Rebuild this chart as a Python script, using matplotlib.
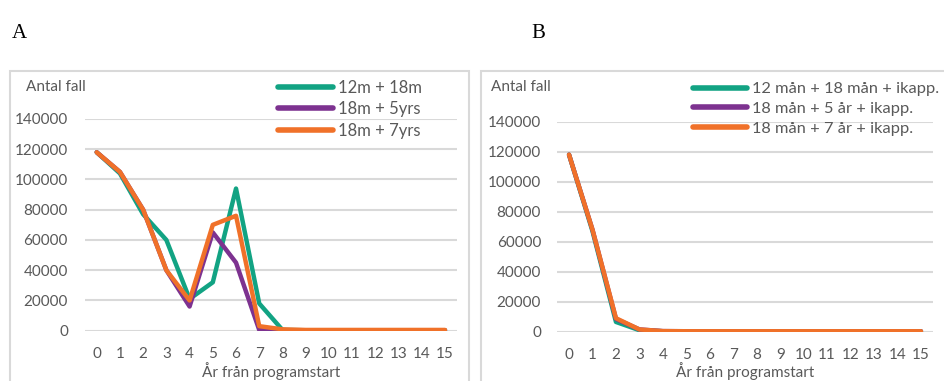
import matplotlib
matplotlib.use("Agg")
import matplotlib.pyplot as plt
from matplotlib.patches import Rectangle

years = list(range(16))
xtick_labels = [str(y) for y in years]
yticks = [0, 20000, 40000, 60000, 80000, 100000, 120000, 140000]

a_labels = ["12m + 18m", "18m + 5yrs", "18m + 7yrs"]
a_green = [118000, 104000, 77000, 60000, 21000, 32000, 94000, 18000, 500, 300, 300, 300, 300, 300, 300, 300]
a_purple = [118000, 105000, 80000, 40000, 16000, 65000, 45000, 500, 300, 300, 300, 300, 300, 300, 300, 300]
a_orange = [118000, 105000, 80000, 40000, 20000, 70000, 76000, 3000, 900, 500, 500, 500, 500, 500, 500, 500]

b_labels = ["12 mån + 18 mån + ikapp.", "18 mån + 5 år + ikapp.", "18 mån + 7 år + ikapp."]
b_green = [118000, 67000, 6500, 1000, 300, 200, 200, 200, 200, 200, 200, 200, 200, 200, 200, 200]
b_purple = [118000, 68000, 8500, 1500, 400, 300, 300, 300, 300, 300, 300, 300, 300, 300, 300, 300]
b_orange = [118000, 68000, 9000, 1500, 400, 300, 300, 300, 300, 300, 300, 300, 300, 300, 300, 300]

colors = ["#12a383", "#7d3290", "#f07129"]
W, H = 944, 381
TXT = "#595959"
GRID = "#d9d9d9"
FONT = "Lato"

fig = plt.figure(figsize=(W / 100, H / 100), dpi=100)

def fx(px):
    return px / W

def fy(py):
    return 1 - py / H

# panel boxes
for x0, x1 in [(10, 469), (480.5, 950)]:
    fig.patches.append(Rectangle((fx(x0), fy(400)), fx(x1) - fx(x0), fy(71) - fy(400),
                                 transform=fig.transFigure, fill=False,
                                 edgecolor=GRID, lw=1.5, zorder=0))

fig.text(fx(12), fy(33), "A", family="Liberation Serif", fontsize=15, va="center", ha="left", color="black")
fig.text(fx(531), fy(33), "B", family="Liberation Serif", fontsize=15, va="center", ha="left", color="black")

def make_panel(xl, xr, ybot, ytop, series, labels, title_x, title_y, leg_x, leg_y, ylab_x, legsize):
    ax = fig.add_axes([fx(xl), fy(ybot), fx(xr) - fx(xl), fy(ytop) - fy(ybot)])
    for vals, c, lab in zip(series, colors, labels):
        ax.plot(years, vals, color=c, lw=3.2, label=lab, solid_capstyle="round",
                solid_joinstyle="round", zorder=3)
    ax.set_xlim(-0.5, 15.5)
    ax.set_ylim(0, 140000)
    ax.set_yticks(yticks)
    ax.set_yticklabels([str(v) for v in yticks])
    ax.set_xticks(years)
    ax.set_xticklabels(xtick_labels)
    for s in ax.spines.values():
        s.set_visible(False)
    ax.grid(axis="y", color=GRID, lw=1.5, zorder=0)
    ax.set_axisbelow(True)
    ax.tick_params(axis="both", length=0, labelsize=11, labelcolor=TXT)
    ax.tick_params(axis="y", pad=(xl - ylab_x) * 0.72)
    ax.tick_params(axis="x", pad=12)
    for t in ax.get_xticklabels() + ax.get_yticklabels():
        t.set_fontfamily(FONT)
    ax.set_xlabel("År från programstart", fontsize=11, color=TXT, family=FONT)
    ax.xaxis.label.set_va("baseline")
    ax.xaxis.set_label_coords(0.5, (ybot - 377.5) / (ybot - ytop))
    fig.text(fx(title_x), fy(title_y), "Antal fall", fontsize=11, color=TXT, family=FONT,
             ha="left", va="center")
    leg = ax.legend(loc="upper left", bbox_to_anchor=(fx(leg_x), fy(leg_y)),
                    bbox_transform=fig.transFigure, frameon=False,
                    prop={"family": FONT, "size": legsize}, handlelength=3.3,
                    handletextpad=0.3, labelspacing=0.32, borderpad=0, borderaxespad=0)
    for t in leg.get_texts():
        t.set_color(TXT)
    for l in leg.get_lines():
        l.set_linewidth(4)
        l.set_solid_capstyle("round")
    return ax

make_panel(85.1, 456.6, 330.7, 119.0, [a_green, a_purple, a_orange], a_labels,
           26, 87, 278, 80, 68, 12)
make_panel(557.3, 932.7, 331.7, 121.7, [b_green, b_purple, b_orange], b_labels,
           490.7, 87, 693, 82, 541, 11.8)

fig.savefig("out.png", dpi=100)
